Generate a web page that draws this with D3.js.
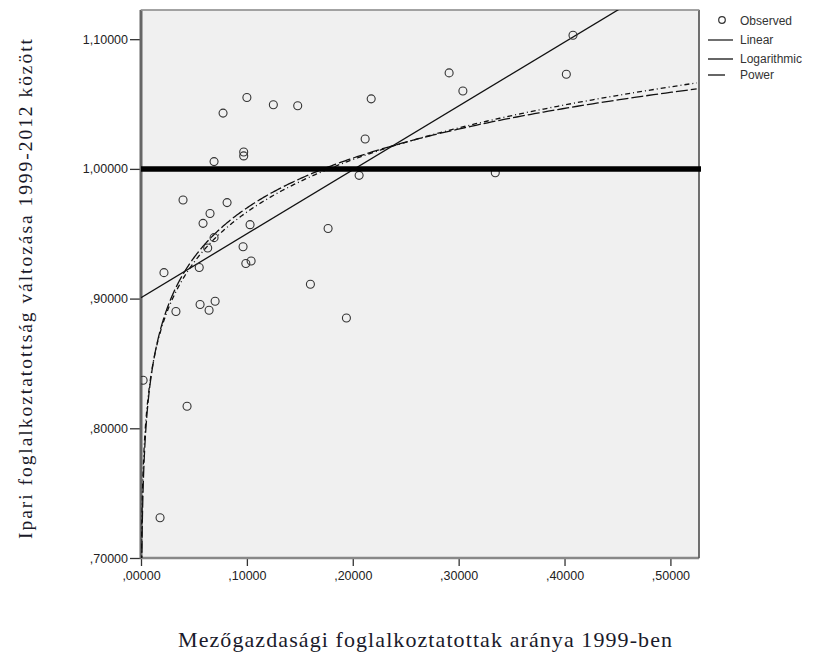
<!DOCTYPE html>
<html>
<head>
<meta charset="utf-8">
<script src="https://cdn.jsdelivr.net/npm/d3@7"></script>
<style>
  body { margin: 0; background: #fff; }
  svg { display: block; }
</style>
</head>
<body>
<svg id="drawing_region"></svg>
<script>
// Mezőgazdasági foglalkoztatottak aránya 1999-ben (x) vs ipari foglalkoztatottság változása (y)
const agriShare = [0.002, 0.018, 0.0435, 0.0775, 0.100, 0.125, 0.148, 0.2174, 0.2117, 0.069,
    0.097, 0.097, 0.206, 0.0397, 0.0813, 0.0652, 0.0586, 0.103, 0.1767, 0.069,
    0.063, 0.0964, 0.099, 0.104, 0.055, 0.0217, 0.160, 0.194, 0.033, 0.0558,
    0.0643, 0.070, 0.291, 0.304, 0.4017, 0.3346, 0.408];
const industryChange = [0.837, 0.731, 0.817, 1.043, 1.055, 1.0495, 1.0487, 1.054, 1.023, 1.0056,
    1.013, 1.010, 0.995, 0.976, 0.974, 0.9656, 0.958, 0.957, 0.954, 0.947,
    0.939, 0.940, 0.927, 0.929, 0.924, 0.920, 0.911, 0.885, 0.890, 0.8955,
    0.891, 0.898, 1.074, 1.060, 1.073, 0.997, 1.103];
const xTicks = [0, 0.1, 0.2, 0.3, 0.4, 0.5];
const yTicks = [0.7, 0.8, 0.9, 1.0, 1.1];
const legendItems = ["Observed", "Linear", "Logarithmic", "Power"];
const referenceValue = 1.0;

const config = {
    width: 813,
    height: 654,
    plot: { left: 141, right: 699, top: 10, bottom: 558 }
};

const data = agriShare.map((x, i) => ({ x: x, y: industryChange[i] }));

// least squares fit y = a + b*f(x)
function fit(pts, fx, fy) {
    const xs = pts.map(d => fx(d.x)), ys = pts.map(d => fy(d.y));
    const mx = d3.mean(xs), my = d3.mean(ys);
    let sxy = 0, sxx = 0;
    xs.forEach((v, i) => { sxy += (v - mx) * (ys[i] - my); sxx += (v - mx) * (v - mx); });
    const b = sxy / sxx;
    return { a: my - b * mx, b: b };
}
const lin = fit(data, x => x, y => y);
const lg = fit(data, x => Math.log(x), y => y);
const pw = fit(data, x => Math.log(x), y => Math.log(y));

const models = {
    Linear: x => lin.a + lin.b * x,
    Logarithmic: x => lg.a + lg.b * Math.log(x),
    Power: x => Math.exp(pw.a) * Math.pow(x, pw.b)
};

const svg = d3.select('#drawing_region')
    .attr('width', config.width)
    .attr('height', config.height);

const p = config.plot;
const xscale = d3.scaleLinear().domain([0, 0.527]).range([p.left, p.right]);
const yscale = d3.scaleLinear().domain([0.70, 1.1225]).range([p.bottom, p.top]);

const fmt = v => {
    let s = d3.format(".5f")(v);
    if (s.startsWith("0.")) s = s.slice(1);
    return s.replace(".", ",");
};

// plot background
svg.append('rect')
    .attr('x', p.left).attr('y', p.top)
    .attr('width', p.right - p.left).attr('height', p.bottom - p.top)
    .attr('fill', '#f0f0f0')
    .attr('stroke', '#888').attr('stroke-width', 1);

svg.append('defs').append('clipPath').attr('id', 'clip')
    .append('rect')
    .attr('x', p.left).attr('y', p.top)
    .attr('width', p.right - p.left).attr('height', p.bottom - p.top);

// axes
const xaxis = d3.axisBottom(xscale).tickValues(xTicks).tickFormat(fmt).tickSize(8).tickSizeOuter(0);
const yaxis = d3.axisLeft(yscale).tickValues(yTicks).tickFormat(fmt).tickSize(11).tickSizeOuter(0);

const xg = svg.append('g').attr('transform', `translate(0, ${p.bottom})`).call(xaxis);
const yg = svg.append('g').attr('transform', `translate(${p.left}, 0)`).call(yaxis);
[xg, yg].forEach(g => {
    g.select('.domain').remove();
    g.selectAll('text')
        .attr('font-family', 'Liberation Sans, Arial, sans-serif')
        .attr('font-size', '12.5px')
        .attr('fill', '#222');
    g.selectAll('.tick line').attr('stroke', '#333').attr('stroke-width', 1.3);
});
yg.selectAll('text').attr('dx', '1px');
xg.selectAll('text').attr('dy', '0.9em');

// frame edges
svg.append('line')
    .attr('x1', p.left).attr('x2', p.left).attr('y1', p.top).attr('y2', p.bottom + 1)
    .attr('stroke', '#666').attr('stroke-width', 3);
svg.append('line')
    .attr('x1', p.left).attr('x2', p.right).attr('y1', p.bottom).attr('y2', p.bottom)
    .attr('stroke', '#888').attr('stroke-width', 2.5);
svg.append('line')
    .attr('x1', p.right).attr('x2', p.right).attr('y1', p.top).attr('y2', p.bottom)
    .attr('stroke', '#555').attr('stroke-width', 1.5);
svg.append('line')
    .attr('x1', p.left).attr('x2', p.right).attr('y1', p.top).attr('y2', p.top)
    .attr('stroke', '#999').attr('stroke-width', 1.5);

const chart = svg.append('g').attr('clip-path', 'url(#clip)');

// fitted curves
const sampleX = d3.range(-4, Math.log10(0.527) + 0.0001, 0.005).map(e => Math.pow(10, e));
const line = d3.line()
    .defined(d => isFinite(d.y))
    .x(d => xscale(d.x))
    .y(d => yscale(Math.max(0.6, Math.min(1.2, d.y))));

const styles = {
    Linear: { dash: null, width: 1.3 },
    Logarithmic: { dash: '12,3', width: 1.3 },
    Power: { dash: '5,3,1,3', width: 1.3 }
};

["Power", "Logarithmic", "Linear"].forEach(name => {
    const xs = name === "Linear" ? [0, 0.527] : sampleX;
    chart.append('path')
        .attr('d', line(xs.map(x => ({ x: x, y: models[name](x) }))))
        .attr('fill', 'none')
        .attr('stroke', '#111')
        .attr('stroke-width', styles[name].width)
        .attr('stroke-dasharray', styles[name].dash);
});

// observed points
chart.selectAll('circle.obs')
    .data(data)
    .join('circle')
    .attr('class', 'obs')
    .attr('cx', d => xscale(d.x))
    .attr('cy', d => yscale(d.y))
    .attr('r', 4)
    .attr('fill', 'none')
    .attr('stroke', '#333')
    .attr('stroke-width', 1.1);

// reference line at 1
svg.append('line')
    .attr('x1', p.left).attr('x2', p.right + 2)
    .attr('y1', yscale(referenceValue)).attr('y2', yscale(referenceValue))
    .attr('stroke', '#000').attr('stroke-width', 5.5);

// legend
const legend = svg.append('g').attr('transform', 'translate(708, 21)');
legendItems.forEach((name, i) => {
    const gy = [0, 19, 38, 54][i];
    const item = legend.append('g').attr('transform', `translate(0, ${gy})`);
    if (name === "Observed") {
        item.append('circle').attr('cx', 14).attr('cy', -1).attr('r', 3.3)
            .attr('fill', 'none').attr('stroke', '#333').attr('stroke-width', 1.2);
    } else {
        item.append('line')
            .attr('x1', 0).attr('x2', name === "Power" ? 17 : 25)
            .attr('y1', 0).attr('y2', 0)
            .attr('stroke', name === "Linear" ? '#222' : '#666')
            .attr('stroke-width', name === "Linear" ? 1.3 : 2);
    }
    item.append('text')
        .attr('x', 32).attr('y', 4)
        .attr('font-family', 'Liberation Sans, Arial, sans-serif')
        .attr('font-size', '12px')
        .attr('fill', '#333')
        .text(name);
});

// axis titles
svg.append('text')
    .attr('transform', 'translate(32, 289) rotate(-90)')
    .attr('text-anchor', 'middle')
    .attr('font-family', 'Liberation Serif, Times New Roman, serif')
    .attr('font-size', '19.5px')
    .attr('fill', '#1a1a2a')
    .attr('textLength', 500)
    .attr('lengthAdjust', 'spacing')
    .text('Ipari foglalkoztatottság változása 1999-2012 között');

svg.append('text')
    .attr('x', 425).attr('y', 647)
    .attr('text-anchor', 'middle')
    .attr('font-family', 'Liberation Serif, Times New Roman, serif')
    .attr('font-size', '22px')
    .attr('fill', '#1a1a2a')
    .attr('textLength', 494)
    .attr('lengthAdjust', 'spacing')
    .text('Mezőgazdasági foglalkoztatottak aránya 1999-ben');
</script>
</body>
</html>
